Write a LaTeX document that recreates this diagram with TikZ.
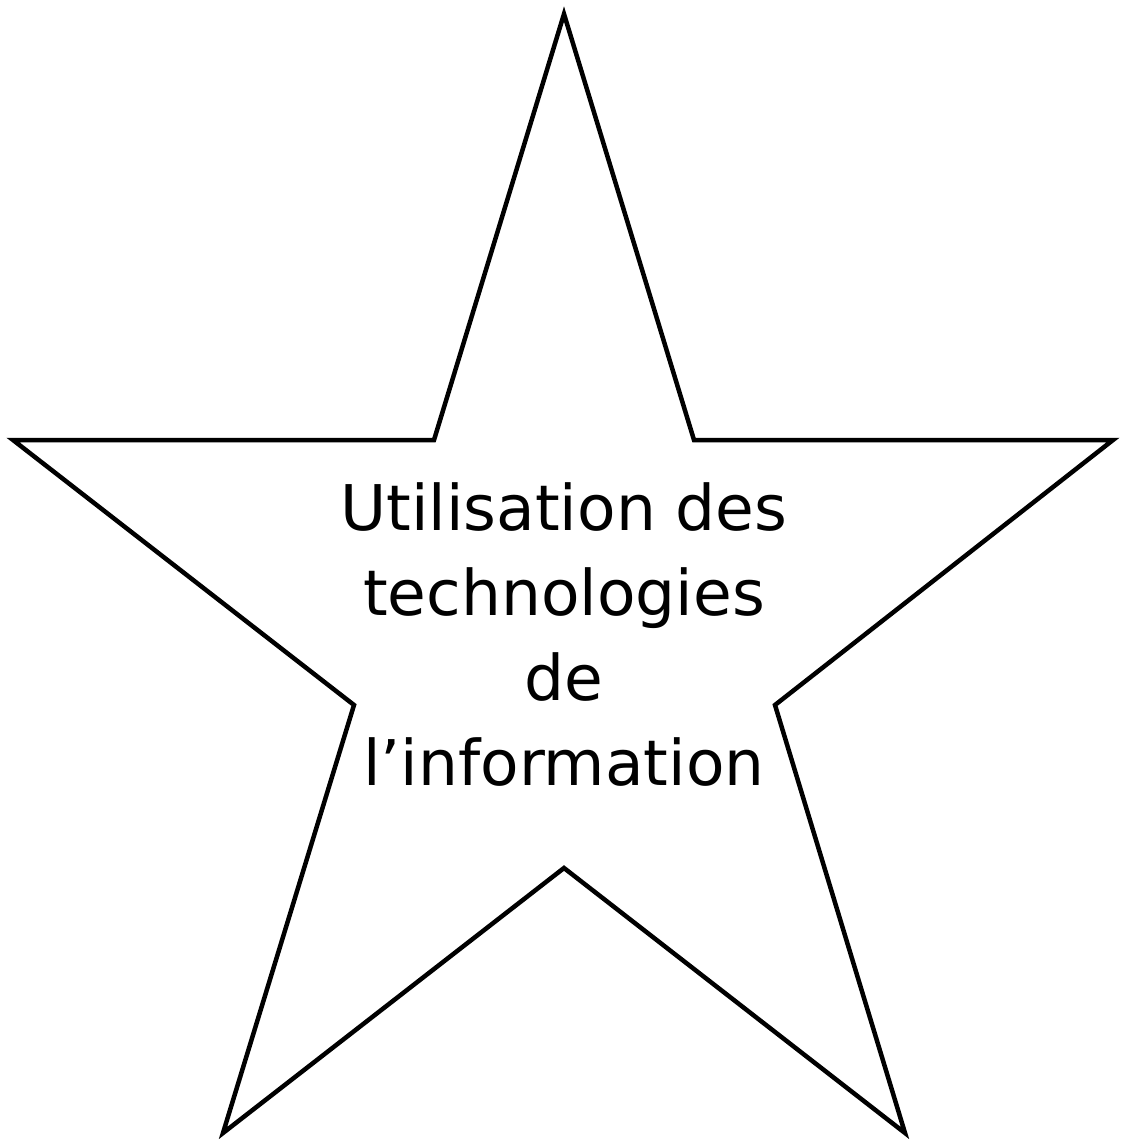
\documentclass[tikz,border=0pt]{standalone}
\usepackage{fontspec}
\setmainfont{DejaVu Sans}
\begin{document}
\begin{tikzpicture}[x=1pt,y=-1pt,
  starline/.style={draw=black,line width=4.5pt,line join=miter},
  label/.style={align=center,font=\fontsize{63}{85}\selectfont,inner sep=0pt}]
\useasboundingbox (0,0) rectangle (1120,1141);
\coordinate (p1) at (564,14);
\coordinate (p2) at (694,440);
\coordinate (p3) at (1113,440);
\coordinate (p4) at (775,705);
\coordinate (p5) at (905,1133);
\coordinate (p6) at (564,868);
\coordinate (p7) at (223,1133);
\coordinate (p8) at (354,705);
\coordinate (p9) at (13,440);
\coordinate (p10) at (434,440);
\draw[starline] (p1) -- (p2) -- (p3) -- (p4) -- (p5) -- (p6) -- (p7) -- (p8) -- (p9) -- (p10) -- cycle;
\node[label,anchor=base] (txt) at (564,785) {Utilisation des\\technologies\\de\\l’information};
\end{tikzpicture}
\end{document}
